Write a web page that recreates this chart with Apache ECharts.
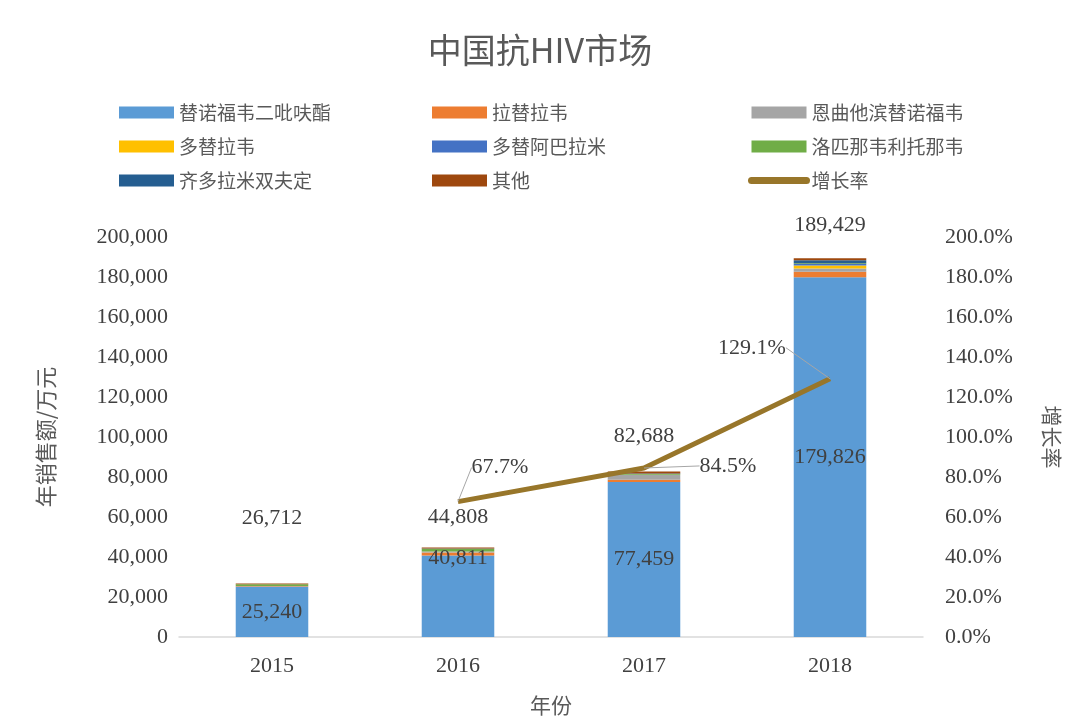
<!DOCTYPE html>
<html><head><meta charset="utf-8">
<script src="https://cdn.jsdelivr.net/npm/echarts@6/dist/echarts.min.js"></script>
<style>html,body{margin:0;padding:0;background:#fff}#c{width:1080px;height:725px}</style>
</head><body><div id="c"></div>
<script>
const years = ['2015','2016','2017','2018'];
const seriesNames = ['替诺福韦二吡呋酯','拉替拉韦','恩曲他滨替诺福韦','多替拉韦','多替阿巴拉米','洛匹那韦利托那韦','齐多拉米双夫定','其他'];
const tdf = [25240, 40811, 77459, 179826];
const ral = [300, 1400, 1200, 2800];
const ftc = [0, 500, 2500, 1600];
const dtg = [0, 0, 0, 1500];
const dtgAbc = [0, 0, 0, 800];
const lpv = [800, 1400, 400, 300];
const azt = [0, 200, 200, 1600];
const other = [372, 497, 929, 1003];
const totals = [26712, 44808, 82688, 189429];
const growth = [null, 67.7, 84.5, 129.1];
const leftTicks = [0, 200000, 20000];
const rightTicks = [0, 200, 20];

const colors = ['#5B9BD5','#ED7D31','#A5A5A5','#FFC000','#4472C4','#70AD47','#255E91','#9E480E'];
const lineColor = '#98762A';
const FONT = "'Liberation Serif','Noto Sans CJK SC',serif";
const CJK = "'Noto Sans CJK SC','Liberation Serif',sans-serif";
const txt = '#404040';
const fmt = v => Number(v).toLocaleString('en-US');

const values = [tdf, ral, ftc, dtg, dtgAbc, lpv, azt, other];
const baseLabelOffset = [0, -38, 0, 0];
const totalLabelOffset = [-65, -30, -35, -33];
const growthLabelShift = [[0,0],[42,-18],[84,14],[-78,-15]];

const series = values.map((arr, i) => ({
  name: seriesNames[i], type: 'bar', stack: 's', barWidth: '39%',
  itemStyle: {color: colors[i]},
  data: i === 0 ? arr.map((v, k) => ({value: v, label: {offset: [0, baseLabelOffset[k]]}})) : arr,
  label: i === 0 ? {show: true, position: 'inside', formatter: p => fmt(p.value), fontFamily: FONT, fontSize: 22, color: txt} : {show: false}
}));
series.push({
  name: '增长率', type: 'line', yAxisIndex: 1, symbol: 'circle', symbolSize: 0.1, showSymbol: true,
  lineStyle: {color: lineColor, width: 5}, itemStyle: {color: lineColor},
  data: growth,
  label: {show: true, position: 'top', fontFamily: FONT, fontSize: 22, color: txt,
    formatter: p => (p.value == null || p.value === '-') ? '' : Number(p.value).toFixed(1) + '%'},
  labelLine: {show: true, lineStyle: {color: '#a6a6a6', width: 1}},
  labelLayout: p => ({dx: growthLabelShift[p.dataIndex][0], dy: growthLabelShift[p.dataIndex][1]}),
  z: 5
});
series.push({
  name: 'total', type: 'scatter', symbolSize: 0, silent: true,
  itemStyle: {opacity: 1},
  data: totals.map((v, k) => ({value: v, label: {offset: [0, totalLabelOffset[k]]}})),
  label: {show: true, position: 'inside', formatter: p => fmt(p.value), fontFamily: FONT, fontSize: 22, color: txt, opacity: 1}
});

const legendTextStyle = {fontFamily: CJK, fontSize: 19, color: '#595959'};
const legendCols = [[0,3,6],[1,4,7],[2,5,8]];
const allNames = seriesNames.concat(['增长率']);
const legendLefts = [114, 427, 743];
const legends = legendCols.map((col, c) => ({
  orient: 'vertical', left: legendLefts[c], top: 98, itemWidth: 55, itemHeight: 12, itemGap: 15,
  textStyle: legendTextStyle, selectedMode: false,
  data: col.map(k => k < 8 ? {name: allNames[k], icon: 'rect'} :
    {name: allNames[k], lineStyle: {width: 7, cap: 'round'}, itemStyle: {opacity: 0}})
}));

const chart = echarts.init(document.getElementById('c'));
chart.setOption({
  animation: false,
  title: {text: '中国抗HIV市场', left: 'center', top: 28, textStyle: {fontFamily: CJK, fontSize: 34, fontWeight: 'normal', color: '#595959'}},
  legend: legends,
  grid: {left: 179, right: 157, top: 237, bottom: 88},
  xAxis: {type: 'category', data: years, name: '年份', nameLocation: 'middle', nameGap: 58,
    nameTextStyle: {fontFamily: CJK, fontSize: 21, color: '#595959'},
    axisLine: {lineStyle: {color: '#d9d9d9', width: 1.5}}, axisTick: {show: false},
    axisLabel: {fontFamily: FONT, fontSize: 22, color: txt, margin: 18}},
  yAxis: [
    {type: 'value', min: leftTicks[0], max: leftTicks[1], interval: leftTicks[2],
      name: '年销售额/万元', nameLocation: 'middle', nameGap: 122, nameRotate: 90,
      nameTextStyle: {fontFamily: CJK, fontSize: 22, color: '#595959'},
      splitLine: {show: false}, axisLine: {show: false}, axisTick: {show: false},
      axisLabel: {fontFamily: FONT, fontSize: 22, color: txt, margin: 11, formatter: v => fmt(v)}},
    {type: 'value', min: rightTicks[0], max: rightTicks[1], interval: rightTicks[2],
      name: '增长率', nameLocation: 'middle', nameGap: 118, nameRotate: -90,
      nameTextStyle: {fontFamily: CJK, fontSize: 21, color: '#595959'},
      splitLine: {show: false}, axisLine: {show: false}, axisTick: {show: false},
      axisLabel: {fontFamily: FONT, fontSize: 22, color: txt, margin: 22, formatter: v => v.toFixed(1) + '%'}}
  ],
  series: series
});
</script></body></html>
